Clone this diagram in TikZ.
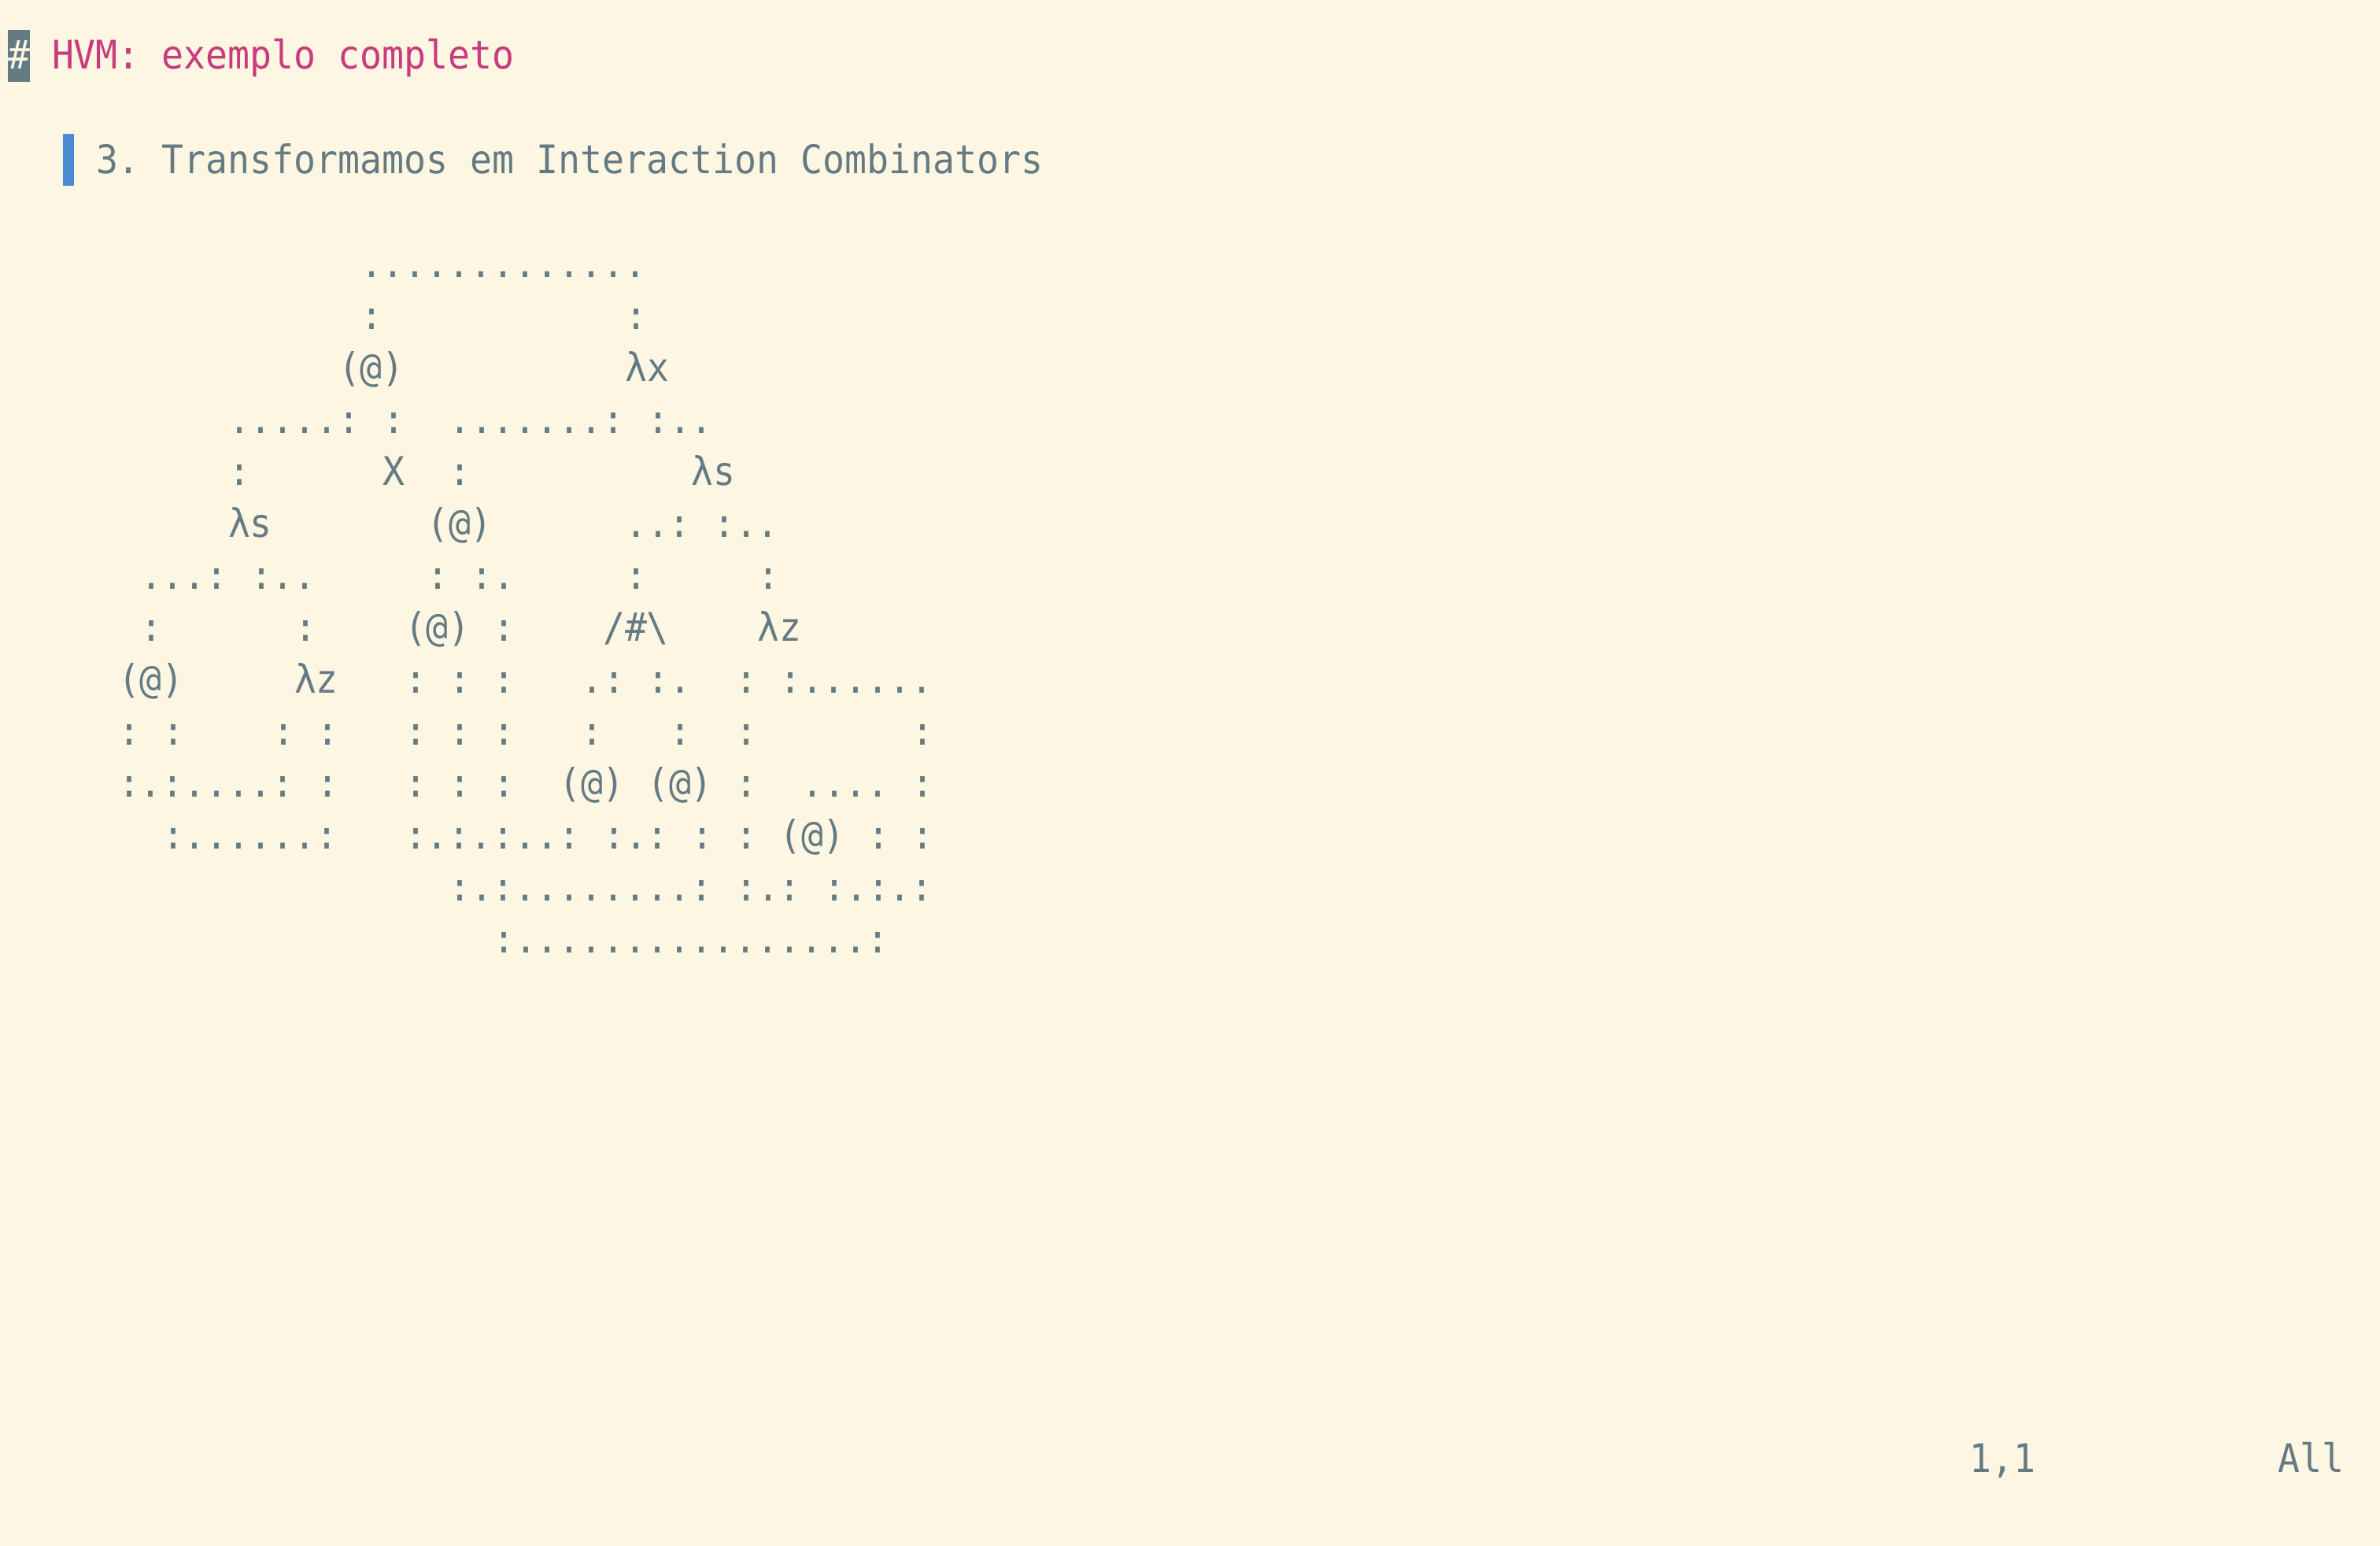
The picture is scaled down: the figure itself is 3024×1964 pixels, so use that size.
\documentclass[tikz,border=0pt]{standalone}
\usepackage{fontspec}
\newfontfamily\term[FakeStretch=0.93]{DejaVu Sans Mono}
\definecolor{bgc}{HTML}{FDF6E3}
\definecolor{fgc}{HTML}{657B83}
\definecolor{pinkc}{HTML}{C83C7D}
\definecolor{bluec}{HTML}{4A8BD4}
\newcounter{segc}
\newcommand\seg[3]{\stepcounter{segc}\node[txt] (s\arabic{segc}) at ({10+28*#2},{88+66*#1}) {#3};}
\tikzset{
  txt/.style={anchor=base west, inner sep=0pt, outer sep=0pt, text=fgc,
    font=\term\fontsize{50pt}{66pt}\selectfont\frenchspacing},
  blockbox/.style={inner sep=0pt, outer sep=0pt, anchor=north west, minimum height=66pt}
}
\begin{document}
\begin{tikzpicture}[x=1pt,y=-1pt]
\useasboundingbox[fill=bgc] (0,0) rectangle (3024,1964);
% heading
\node[blockbox, fill=fgc, minimum width=28pt] (hashbox) at (10,38) {};
\node[txt, text=bgc] (hash) at (10,88) {\#};
\node[txt, text=pinkc] (title) at (66,88) {HVM: exemplo completo};
% quote
\node[blockbox, fill=bluec, minimum width=14pt] (bar) at (80,170) {};
\node[txt] (quote) at (122,220) {3. Transformamos em Interaction Combinators};
% ascii art
\seg{4}{16}{.............}
\seg{5}{16}{:}\seg{5}{28}{:}
\seg{6}{15}{(@)}\seg{6}{28}{λx}
\seg{7}{10}{.....:}\seg{7}{17}{:}\seg{7}{20}{.......:}\seg{7}{29}{:..}
\seg{8}{10}{:}\seg{8}{17}{X}\seg{8}{20}{:}\seg{8}{31}{λs}
\seg{9}{10}{λs}\seg{9}{19}{(@)}\seg{9}{28}{..:}\seg{9}{32}{:..}
\seg{10}{6}{...:}\seg{10}{11}{:..}\seg{10}{19}{:}\seg{10}{21}{:.}\seg{10}{28}{:}\seg{10}{34}{:}
\seg{11}{6}{:}\seg{11}{13}{:}\seg{11}{18}{(@)}\seg{11}{22}{:}\seg{11}{27}{/\#\textbackslash}\seg{11}{34}{λz}
\seg{12}{5}{(@)}\seg{12}{13}{λz}\seg{12}{18}{:}\seg{12}{20}{:}\seg{12}{22}{:}\seg{12}{26}{.:}\seg{12}{29}{:.}\seg{12}{33}{:}\seg{12}{35}{:......}
\seg{13}{5}{:}\seg{13}{7}{:}\seg{13}{12}{:}\seg{13}{14}{:}\seg{13}{18}{:}\seg{13}{20}{:}\seg{13}{22}{:}\seg{13}{26}{:}\seg{13}{30}{:}\seg{13}{33}{:}\seg{13}{41}{:}
\seg{14}{5}{:.:....:}\seg{14}{14}{:}\seg{14}{18}{:}\seg{14}{20}{:}\seg{14}{22}{:}\seg{14}{25}{(@)}\seg{14}{29}{(@)}\seg{14}{33}{:}\seg{14}{36}{....}\seg{14}{41}{:}
\seg{15}{7}{:......:}\seg{15}{18}{:.:.:..:}\seg{15}{27}{:.:}\seg{15}{31}{:}\seg{15}{33}{:}\seg{15}{35}{(@)}\seg{15}{39}{:}\seg{15}{41}{:}
\seg{16}{20}{:.:........:}\seg{16}{33}{:.:}\seg{16}{37}{:.:.:}
\seg{17}{22}{:................:}
% status line
\node[txt] (pos) at (2502,1870) {1,1};
\node[txt] (all) at (2894,1870) {All};
\end{tikzpicture}
\end{document}
